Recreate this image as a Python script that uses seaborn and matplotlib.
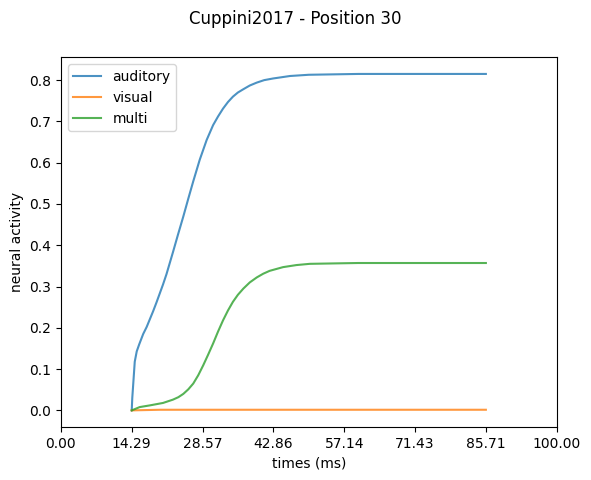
import numpy as np
import pandas as pd
import matplotlib
matplotlib.use("Agg")
import matplotlib.pyplot as plt
import seaborn as sns

# values (times in ms)
auditory_t = [14.29, 14.4, 14.6, 14.9, 15.3, 15.8, 16.6, 17.3, 18.6, 19.3, 20.6, 21.3,
              22.6, 23.6, 24.7, 25.7, 26.7, 28.0, 29.4, 30.7, 31.7, 32.7, 33.7, 34.7,
              35.7, 36.8, 38.1, 39.5, 41.0, 42.8, 44.5, 46.2, 50.0, 55.0, 60.0, 70.0, 85.71]
auditory_y = [0.0, 0.03, 0.065, 0.118, 0.143, 0.16, 0.185, 0.202, 0.24, 0.262, 0.305, 0.33,
              0.383, 0.425, 0.47, 0.513, 0.555, 0.607, 0.655, 0.691, 0.712, 0.731, 0.747, 0.760,
              0.770, 0.778, 0.787, 0.794, 0.800, 0.804, 0.807, 0.810, 0.813, 0.814, 0.815, 0.815, 0.815]

visual_t = [14.29, 20.0, 30.0, 50.0, 85.71]
visual_y = [0.0, 0.0015, 0.0015, 0.0015, 0.0015]

multi_t = [14.29, 15.9, 17.9, 20.6, 22.6, 23.7, 24.7, 25.7, 26.7, 27.7, 28.7, 29.7, 30.7,
           31.7, 32.7, 33.7, 34.7, 35.7, 36.8, 38.1, 39.5, 40.8, 42.1, 44.8, 47.5, 50.2,
           55.0, 60.0, 70.0, 85.71]
multi_y = [0.0, 0.008, 0.012, 0.018, 0.026, 0.032, 0.040, 0.051, 0.065, 0.085, 0.109, 0.135, 0.162,
           0.191, 0.218, 0.242, 0.263, 0.280, 0.295, 0.310, 0.322, 0.331, 0.338, 0.347, 0.352, 0.355,
           0.356, 0.357, 0.357, 0.357]

series = {
    "auditory": (auditory_t, auditory_y),
    "visual": (visual_t, visual_y),
    "multi": (multi_t, multi_y),
}

fig = plt.figure(figsize=(5.91, 4.8), dpi=100)
ax = fig.add_subplot(111)
fig.subplots_adjust(left=0.103, right=0.942, top=0.881, bottom=0.110)

colors = sns.color_palette("tab10")
for i, (name, (t, y)) in enumerate(series.items()):
    df = pd.DataFrame({"times": t, "activity": y})
    sns.lineplot(data=df, x="times", y="activity", ax=ax, color=colors[i],
                 alpha=0.8, label=name, linewidth=1.5)

ax.set_xlim(0, 100)
ticks = np.linspace(0, 100, 8)
ax.set_xticks(ticks)
ax.set_xticklabels([f"{v:.2f}" for v in ticks])
ax.set_xlabel("times (ms)")
ax.set_ylabel("neural activity")
ax.legend(loc="upper left")
fig.suptitle("Cuppini2017 - Position 30")

fig.savefig("out.png", dpi=100)
